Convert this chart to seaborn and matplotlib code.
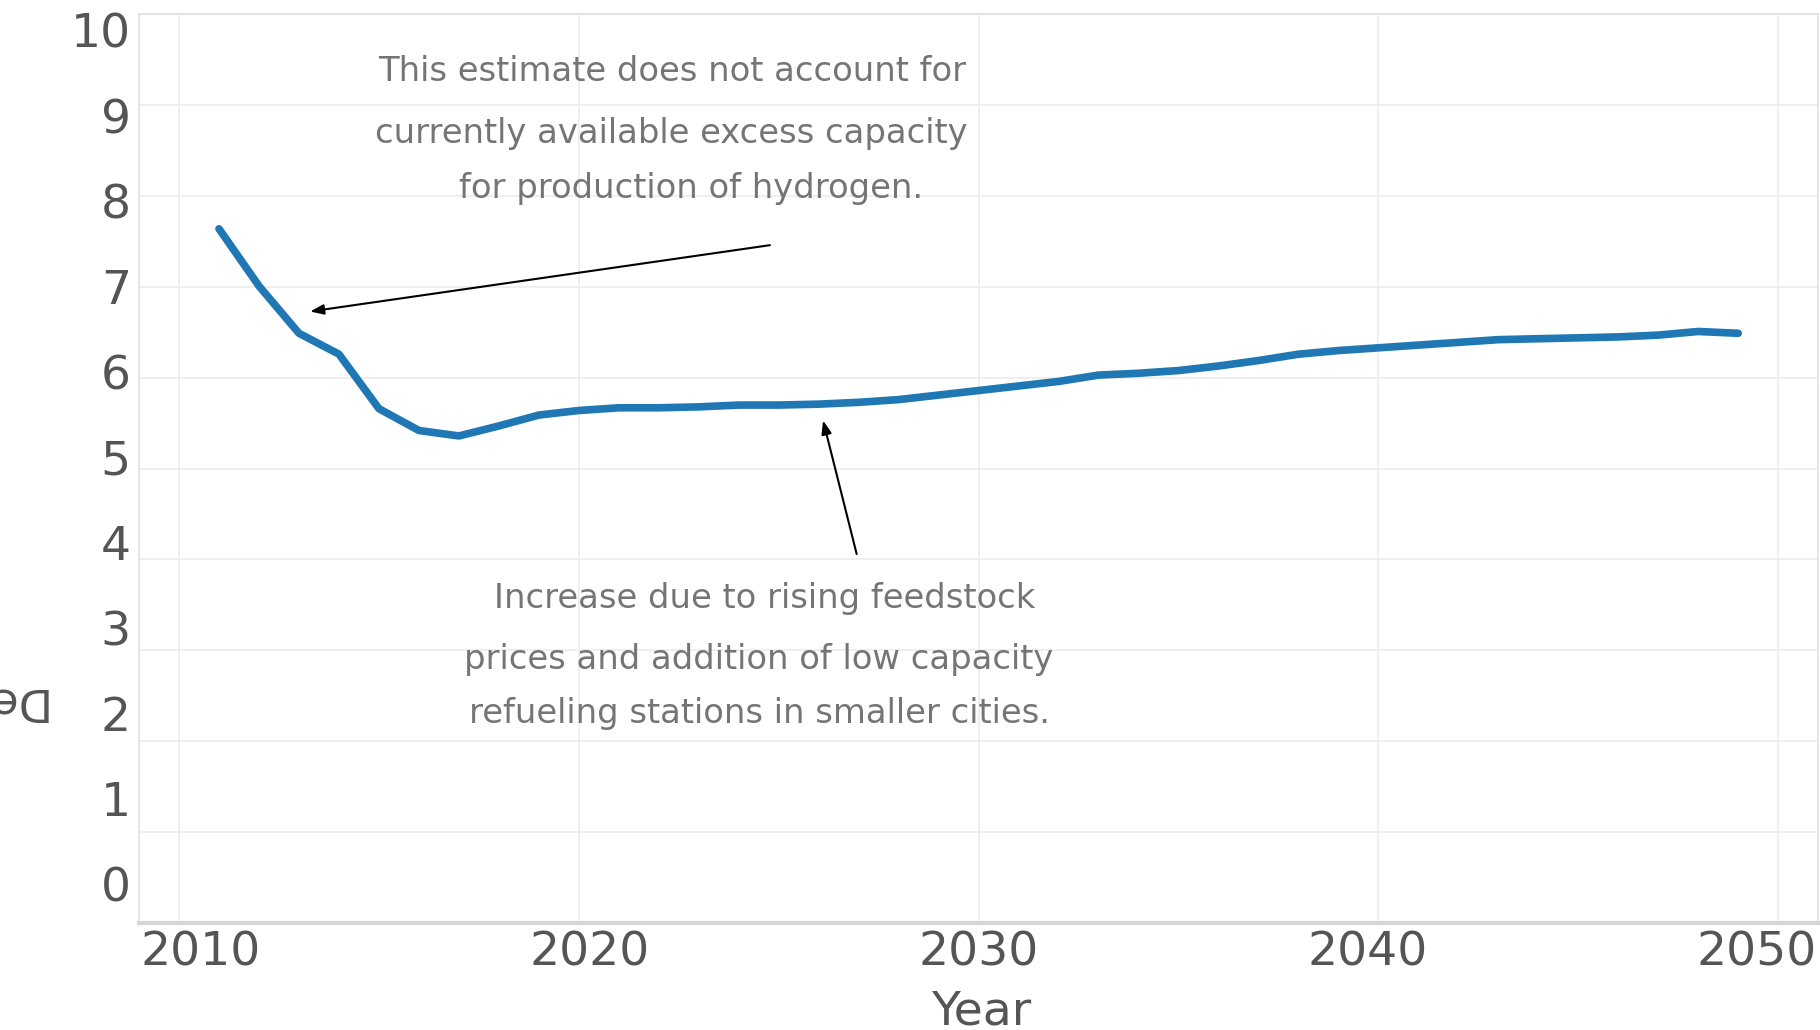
import matplotlib
matplotlib.use("Agg")
import matplotlib.pyplot as plt
import seaborn as sns
import pandas as pd
import numpy as np

years = list(range(2011, 2050))
cost = [7.64, 7.01, 6.49, 6.26, 5.66, 5.42, 5.36, 5.47, 5.59, 5.64,
        5.67, 5.67, 5.68, 5.70, 5.70, 5.71, 5.73, 5.76, 5.81, 5.86,
        5.91, 5.96, 6.03, 6.05, 6.08, 6.13, 6.19, 6.26, 6.30, 6.33,
        6.36, 6.39, 6.42, 6.43, 6.44, 6.45, 6.47, 6.51, 6.49]
x_ticks = [2010, 2020, 2030, 2040, 2050]
y_ticks = list(range(0, 11))
note1 = ["This estimate does not account for",
         "currently available excess capacity",
         "for production of hydrogen."]
note2 = ["Increase due to rising feedstock",
         "prices and addition of low capacity",
         "refueling stations in smaller cities."]

df = pd.DataFrame({"Year": years, "Cost": cost})

sns.set_style("white")
plt.rcParams['font.family'] = ['DejaVu Sans']

fig = plt.figure(figsize=(18.2, 10.3), dpi=100)
ax = fig.add_axes([0.0764, 0.104, 0.9226, 0.882])

sns.lineplot(data=df, x="Year", y="Cost", ax=ax, color="#1f77b4", linewidth=5.5,
             solid_capstyle="round")

ax.set_xlim(2009, 2051)
ax.set_ylim(0, 10)
ax.set_xticks(x_ticks)
ax.set_yticks(y_ticks)
ax.set_xticklabels([])
ax.set_yticklabels([])
ax.set_xticks(np.arange(2009, 2052, 1), minor=True)
ax.set_yticks(np.arange(0, 10.01, 0.1), minor=True)
ax.grid(True, which="major", color="#ececec", linewidth=1.2)
ax.set_axisbelow(True)

tick_col = "#555555"
ax.tick_params(axis="both", which="major", length=7, color="#d6d6d6", width=1.2)
ax.tick_params(axis="both", which="minor", length=4, color="#dddddd", width=1)

# tick labels drawn slightly inset, as in the reference rendering
for v in y_ticks:
    ax.text(-0.005, 0.037 + v * 0.094, str(v), transform=ax.transAxes,
            ha="right", va="center", fontsize=34, color=tick_col)
for yr in x_ticks:
    disp = 173 + (yr - 2010) * 33.55
    frac = (disp - 120) / (1568 - 120)
    ax.text(frac, -0.0335, str(yr), transform=ax.transAxes,
            ha="center", va="center", fontsize=34, color=tick_col)

for s in ["top", "right", "left"]:
    ax.spines[s].set_color("#e0e0e0")
    ax.spines[s].set_linewidth(1.2)
ax.spines["bottom"].set_color("#d6d6d6")
ax.spines["bottom"].set_linewidth(3)

ax.set_xlabel("")
ax.set_ylabel("")
fig.text(845 * 1820 / 1568 / 1820, 1 - 872 * (1820 / 1568) / 1030, "Year",
         ha="center", va="center", fontsize=34, color=tick_col)

fig.text(53 / 1820, 1 - 701 / 1030, "Delivered Cost", rotation=180,
         ha="right", va="center", fontsize=32, color=tick_col)

txt_col = "#757575"
n1_pos = [(579, 62), (578, 115), (595, 162)]
n2_pos = [(659, 516), (654, 568), (654, 615)]
sc = 1820 / 1568
for line, (px, py) in zip(note1, n1_pos):
    fig.text(px * sc / 1820, 1 - py * sc / 1030, line, ha="center", va="center",
             fontsize=24.3, color=txt_col)
for line, (px, py) in zip(note2, n2_pos):
    fig.text(px * sc / 1820, 1 - py * sc / 1030, line, ha="center", va="center",
             fontsize=24.3, color=txt_col)

arrow = dict(arrowstyle="-|>,head_length=0.8,head_width=0.3", color="black",
             linewidth=1.5, shrinkA=0, shrinkB=0)
ax.annotate("", xy=(2013.28, 6.73), xytext=(2024.78, 7.46), arrowprops=arrow)
ax.annotate("", xy=(2026.11, 5.53), xytext=(2026.95, 4.06), arrowprops=arrow)

fig.savefig("out.png", dpi=100)
